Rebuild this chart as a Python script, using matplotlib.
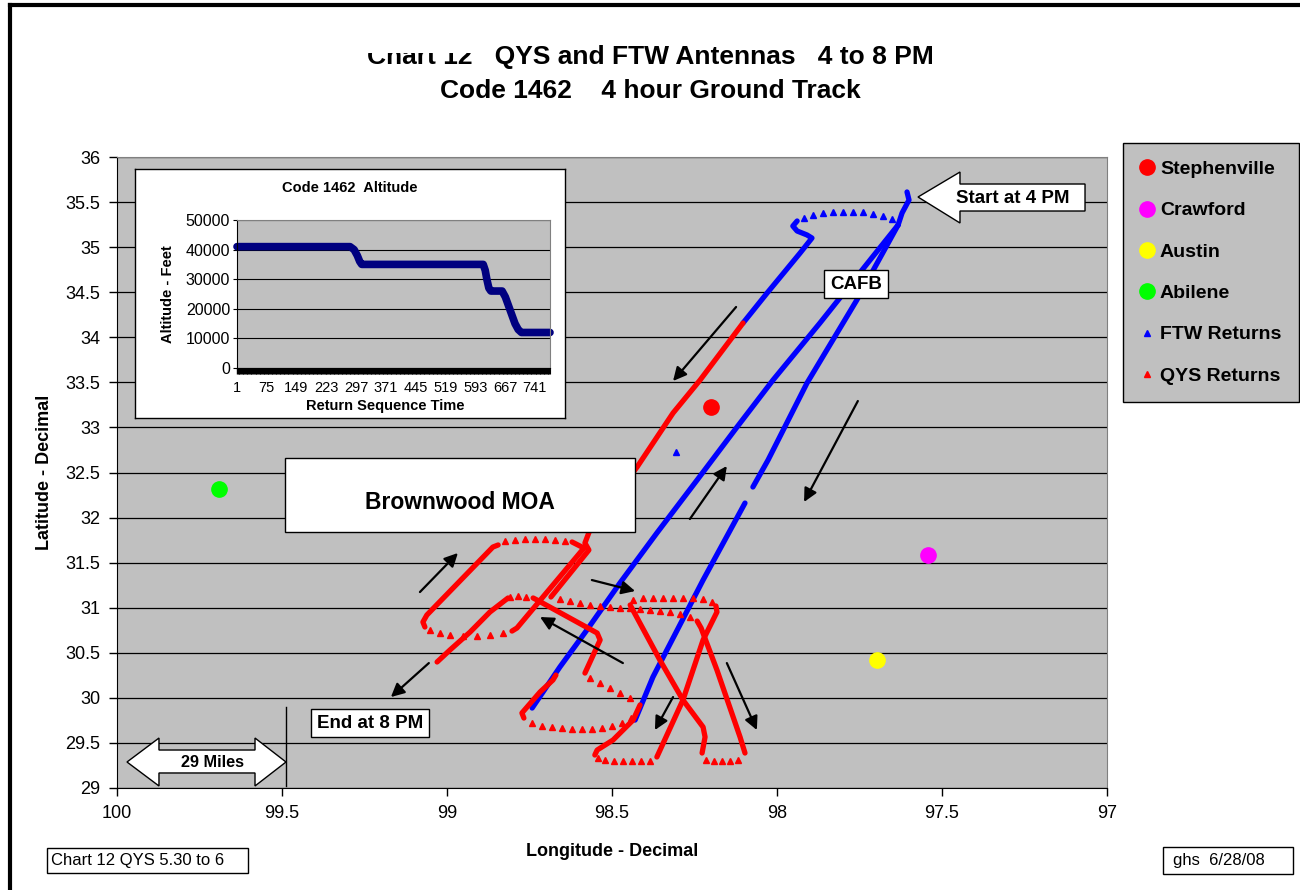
import matplotlib
matplotlib.use("Agg")
import numpy as np
import matplotlib.pyplot as plt
from matplotlib.patches import Rectangle, Polygon
from matplotlib.lines import Line2D
from matplotlib.ticker import FuncFormatter

plt.rcParams["font.family"] = ["Liberation Sans", "DejaVu Sans"]

# ---- towns (longitude west, latitude) ----
cities = ["Stephenville", "Crawford", "Austin", "Abilene"]
city_lon = [98.200, 97.542, 97.697, 99.691]
city_lat = [33.226, 31.585, 30.420, 32.317]
city_colors = ["#FF0000", "#FF00FF", "#FFFF00", "#00FF00"]

# ---- FTW returns (blue): dense runs and sparse turn points ----
ftw_start = [(97.606, 35.612), (97.600, 35.523), (97.621, 35.379), (97.633, 35.246)]
ftw_turn = [(97.652, 35.312), (97.679, 35.345), (97.709, 35.368), (97.739, 35.390),
            (97.770, 35.390), (97.800, 35.390), (97.830, 35.390), (97.861, 35.379),
            (97.891, 35.357), (97.918, 35.323)]
ftw_leg1 = [(97.939, 35.290), (97.952, 35.234), (97.939, 35.179), (97.909, 35.135),
            (97.894, 35.101), (97.930, 34.935), (98.030, 34.491), (98.103, 34.158)]
ftw_leg2 = [(97.633, 35.246), (97.718, 34.857), (97.870, 34.158), (98.012, 33.526),
            (98.121, 33.005), (98.242, 32.417), (98.364, 31.829), (98.476, 31.274),
            (98.576, 30.753), (98.658, 30.342), (98.742, 29.887)]
ftw_leg3a = [(97.633, 35.246), (97.758, 34.414), (97.909, 33.493), (98.027, 32.639),
             (98.073, 32.339)]
ftw_leg3b = [(98.097, 32.161), (98.224, 31.307), (98.376, 30.231), (98.430, 29.754)]
ftw_stray = [(98.306, 32.727)]

# ---- QYS returns (red) ----
qys_leg = [(98.103, 34.158), (98.233, 33.526), (98.315, 33.160), (98.424, 32.561),
           (98.567, 31.862), (98.582, 31.718), (98.570, 31.640), (98.685, 31.119)]
qys_turn1 = [(98.658, 31.097), (98.627, 31.074), (98.597, 31.052), (98.567, 31.030),
             (98.536, 31.019), (98.506, 31.008), (98.476, 30.997), (98.445, 30.997),
             (98.415, 30.986), (98.385, 30.974), (98.355, 30.963), (98.324, 30.952),
             (98.294, 30.930), (98.264, 30.897)]
qys_run2 = [(98.242, 30.852), (98.230, 30.775), (98.182, 30.309), (98.112, 29.566),
            (98.097, 29.388)]
qys_turn2 = [(98.118, 29.310), (98.142, 29.299), (98.167, 29.299), (98.191, 29.299),
             (98.215, 29.310)]
qys_run3 = [(98.227, 29.388), (98.218, 29.566), (98.224, 29.676), (98.285, 29.976),
            (98.355, 30.420), (98.445, 31.030)]
qys_turn3 = [(98.436, 31.085), (98.406, 31.108), (98.376, 31.108), (98.345, 31.108),
             (98.315, 31.108), (98.285, 31.108), (98.255, 31.108), (98.224, 31.097),
             (98.197, 31.063)]
qys_run4 = [(98.185, 31.019), (98.182, 30.952), (98.224, 30.642), (98.285, 29.976),
            (98.364, 29.344)]
qys_turn4 = [(98.385, 29.299), (98.412, 29.299), (98.439, 29.299), (98.467, 29.299),
             (98.494, 29.299), (98.521, 29.310), (98.542, 29.333)]
qys_run5 = [(98.552, 29.366), (98.545, 29.421), (98.497, 29.532), (98.436, 29.754),
            (98.415, 29.921)]
qys_turn5 = [(98.445, 29.998), (98.476, 30.054), (98.506, 30.109), (98.536, 30.165),
             (98.567, 30.220)]
qys_run6 = [(98.582, 30.275), (98.536, 30.642), (98.545, 30.719), (98.727, 31.085),
            (98.739, 31.108)]
qys_turn6 = [(98.761, 31.119), (98.785, 31.130), (98.809, 31.119)]
qys_end = [(98.815, 31.108), (98.870, 30.952), (98.930, 30.730), (98.991, 30.531),
           (99.030, 30.398)]
qys_run8 = [(98.621, 31.729), (98.585, 31.662), (98.788, 30.775), (98.803, 30.741)]
qys_turn8 = [(98.830, 30.719), (98.870, 30.697), (98.909, 30.686), (98.952, 30.686),
             (98.991, 30.697), (99.021, 30.719), (99.052, 30.753)]
qys_run9 = [(99.067, 30.786), (99.073, 30.841), (99.061, 30.919), (98.861, 31.673),
            (98.845, 31.696)]
qys_turn9 = [(98.824, 31.740), (98.794, 31.751), (98.764, 31.762), (98.733, 31.762),
             (98.703, 31.762), (98.673, 31.751), (98.642, 31.740)]
qys_run10 = [(98.670, 30.253), (98.679, 30.198), (98.718, 30.065), (98.773, 29.832),
             (98.767, 29.776)]
qys_turn10 = [(98.742, 29.721), (98.712, 29.688), (98.682, 29.676), (98.652, 29.665),
              (98.621, 29.654), (98.591, 29.654), (98.561, 29.654), (98.530, 29.665),
              (98.500, 29.688), (98.470, 29.721), (98.442, 29.776)]

ftw_runs = [ftw_start, ftw_leg1, ftw_leg2, ftw_leg3a, ftw_leg3b]
ftw_dots = [ftw_turn, ftw_stray]
qys_runs = [qys_leg, qys_run2, qys_run3, qys_run4, qys_run5, qys_run6, qys_end,
            qys_run8, qys_run9, qys_run10]
qys_dots = [qys_turn1, qys_turn2, qys_turn3, qys_turn4, qys_turn5, qys_turn6,
            qys_turn8, qys_turn9, qys_turn10]

# ---- inset: altitude vs return sequence ----
alt_seq = [1, 282, 292, 300, 306, 311, 613, 618, 622, 627, 632, 660, 668, 676,
           684, 692, 700, 708, 779]
alt_feet = [41000, 41000, 40000, 38000, 36000, 35000, 35000, 33000, 30000, 27000,
            26000, 26000, 24000, 21000, 18000, 15000, 13000, 12000, 12000]
alt_xticks = [1, 75, 149, 223, 297, 371, 445, 519, 593, 667, 741]

lon_ticks = [100, 99.5, 99, 98.5, 98, 97.5, 97]
lat_ticks = [29, 29.5, 30, 30.5, 31, 31.5, 32, 32.5, 33, 33.5, 34, 34.5, 35, 35.5, 36]

BLUE = "#0000FF"
RED = "#FF0000"
GRAY = "#C0C0C0"

fig = plt.figure(figsize=(13, 8.9), dpi=100)

# main plot area
ax = fig.add_axes([117 / 1300, 1 - 788 / 890, 990 / 1300, 631 / 890])
ax.set_facecolor(GRAY)
ax.set_xlim(100, 97)
ax.set_ylim(29, 36)
ax.set_xticks(lon_ticks)
ax.set_yticks(lat_ticks)
fmt = FuncFormatter(lambda v, p: f"{v:g}")
ax.xaxis.set_major_formatter(fmt)
ax.yaxis.set_major_formatter(fmt)
ax.yaxis.grid(True, color="black", lw=0.9)
ax.set_axisbelow(True)
ax.tick_params(direction="out", length=6, width=1, labelsize=13, pad=6)
for s in ["top", "right"]:
    ax.spines[s].set_color("#808080")
for s in ["left", "bottom"]:
    ax.spines[s].set_color("black")

for run in ftw_runs:
    lo, la = zip(*run)
    ax.plot(lo, la, color=BLUE, lw=3.8, solid_capstyle="round", zorder=2)
for dots in ftw_dots:
    lo, la = zip(*dots)
    ax.plot(lo, la, ls="none", marker="^", ms=4.5, color=BLUE, zorder=2)
for run in qys_runs:
    lo, la = zip(*run)
    ax.plot(lo, la, color=RED, lw=3.8, solid_capstyle="round", zorder=3)
for dots in qys_dots:
    lo, la = zip(*dots)
    ax.plot(lo, la, ls="none", marker="^", ms=4.5, color=RED, zorder=3)

for lo, la, c in zip(city_lon, city_lat, city_colors):
    ax.plot(lo, la, ls="none", marker="o", ms=11, mfc=c, mec=c, zorder=4)

# direction arrows
arrow_pairs = [((98.124, 34.336), (98.315, 33.515)),
               ((99.082, 31.174), (98.967, 31.607)),
               ((98.561, 31.307), (98.430, 31.185)),
               ((98.467, 30.386), (98.718, 30.897)),
               ((98.264, 31.984), (98.152, 32.572)),
               ((97.755, 33.293), (97.918, 32.173)),
               ((98.315, 30.009), (98.370, 29.643)),
               ((98.152, 30.386), (98.061, 29.643)),
               ((99.055, 30.386), (99.170, 30.009))]
for tail, head in arrow_pairs:
    ax.annotate("", xy=head, xytext=tail,
                arrowprops=dict(arrowstyle="-|>", color="black", lw=1.6,
                                mutation_scale=20, shrinkA=0, shrinkB=0),
                zorder=5)

# callouts
ax.add_patch(Rectangle((0.1697, 0.4057), 0.3535, 0.1173, transform=ax.transAxes,
                       facecolor="white", edgecolor="black", lw=1, zorder=6))
ax.text(0.3465, 0.4532, "Brownwood MOA", transform=ax.transAxes, ha="center",
        va="center", fontsize=16.5, fontweight="bold", zorder=7)

box = dict(boxstyle="square,pad=0.3", facecolor="white", edgecolor="black", lw=1)
ax.text(0.7465, 0.7987, "CAFB", transform=ax.transAxes, ha="center", va="center",
        fontsize=13.5, fontweight="bold", bbox=box, zorder=7)
ax.text(0.2556, 0.1030, "End at 8 PM", transform=ax.transAxes, ha="center",
        va="center", fontsize=13.5, fontweight="bold", bbox=box, zorder=7)

start_shape = [(0.8091, 0.9366), (0.8515, 0.9762), (0.8515, 0.9572), (0.9778, 0.9572),
               (0.9778, 0.9144), (0.8515, 0.9144), (0.8515, 0.8954)]
ax.add_patch(Polygon(start_shape, closed=True, transform=ax.transAxes,
                     facecolor="white", edgecolor="black", lw=1, zorder=6))
ax.text(0.9051, 0.9350, "Start at 4 PM", transform=ax.transAxes, ha="center",
        va="center", fontsize=13.5, fontweight="bold", zorder=7)

miles_shape = [(0.0101, 0.0412), (0.0424, 0.0792), (0.0424, 0.0602), (0.1394, 0.0602),
               (0.1394, 0.0792), (0.1707, 0.0412), (0.1394, 0.0032), (0.1394, 0.0238),
               (0.0424, 0.0238), (0.0424, 0.0032)]
ax.add_patch(Polygon(miles_shape, closed=True, transform=ax.transAxes,
                     facecolor="white", edgecolor="black", lw=1, zorder=6))
ax.text(0.0960, 0.0412, "29 Miles", transform=ax.transAxes, ha="center",
        va="center", fontsize=11.7, fontweight="bold", zorder=7)
ax.plot([0.1707, 0.1707], [0.003, 0.128], transform=ax.transAxes, color="black",
        lw=1, zorder=6)

# titles and axis labels
fig.text(0.5, 1 - 57 / 890, "Chart 12   QYS and FTW Antennas   4 to 8 PM",
         ha="center", va="center", fontsize=19, fontweight="bold")
fig.text(0.5, 1 - 91 / 890, "Code 1462    4 hour Ground Track",
         ha="center", va="center", fontsize=19, fontweight="bold")
fig.add_artist(Rectangle((355 / 1300, 1 - 53 / 890), 125 / 1300, 25 / 890,
                         transform=fig.transFigure, facecolor="white",
                         edgecolor="none", zorder=10))
fig.text(612 / 1300, 1 - 851 / 890, "Longitude - Decimal", ha="center", va="center",
         fontsize=13, fontweight="bold")
fig.text(45 / 1300, 1 - 472 / 890, "Latitude - Decimal", ha="center", va="center",
         rotation=90, fontsize=13, fontweight="bold")

# legend
handles = [Line2D([], [], ls="none", marker="o", ms=11, mfc=c, mec=c)
           for c in city_colors]
handles += [Line2D([], [], ls="none", marker="^", ms=4.5, color=BLUE),
            Line2D([], [], ls="none", marker="^", ms=4.5, color=RED)]
labels = cities + ["FTW Returns", "QYS Returns"]
leg = fig.legend(handles, labels, loc="upper left",
                 bbox_to_anchor=(1123 / 1300, 1 - 143 / 890), frameon=True,
                 fancybox=False, facecolor=GRAY, edgecolor="black", framealpha=1,
                 prop=dict(weight="bold", size=14), labelspacing=1.22,
                 handlelength=0.7, handletextpad=0.3, borderpad=0.9,
                 borderaxespad=0)
leg.get_frame().set_linewidth(1.0)

# inset chart
box_ax = fig.add_axes([135 / 1300, 1 - 418 / 890, 430 / 1300, 249 / 890], zorder=3)
box_ax.set_facecolor("white")
box_ax.set_xticks([])
box_ax.set_yticks([])
for s in box_ax.spines.values():
    s.set_color("black")
    s.set_linewidth(1)

iax = fig.add_axes([237 / 1300, 1 - 368 / 890, 313 / 1300, 148 / 890], zorder=4)
iax.set_facecolor(GRAY)
iax.plot(alt_seq, alt_feet, color="#000080", lw=5.5, solid_capstyle="round",
         solid_joinstyle="round", clip_on=False)
iax.set_xlim(1, 779)
iax.set_ylim(0, 50000)
iax.set_yticks([0, 10000, 20000, 30000, 40000, 50000])
iax.set_xticks(alt_xticks)
iax.set_xticks(np.arange(1, 780, 2), minor=True)
iax.yaxis.grid(True, color="black", lw=0.8)
iax.set_axisbelow(True)
iax.tick_params(axis="y", length=3, pad=2, labelsize=11.5)
iax.tick_params(axis="x", which="major", length=4, width=1, pad=5, labelsize=10.5)
iax.tick_params(axis="x", which="minor", length=4, width=0.8)
for s in ["top", "right"]:
    iax.spines[s].set_color("#808080")
fig.text(350 / 1300, 1 - 188 / 890, "Code 1462  Altitude", ha="center", va="center",
         fontsize=10.5, fontweight="bold", zorder=5)
fig.text(168 / 1300, 1 - 294 / 890, "Altitude - Feet", ha="center", va="center",
         rotation=90, fontsize=10.5, fontweight="bold", zorder=5)
fig.text(385 / 1300, 1 - 406 / 890, "Return Sequence Time", ha="center", va="center",
         fontsize=10.5, fontweight="bold", zorder=5)

# footer notes
fig.add_artist(Rectangle((47 / 1300, 1 - 873 / 890), 201 / 1300, 25 / 890,
                         transform=fig.transFigure, facecolor="white",
                         edgecolor="black", lw=1))
fig.text(51 / 1300, 1 - 860 / 890, "Chart 12 QYS 5.30 to 6", ha="left", va="center",
         fontsize=12)
fig.add_artist(Rectangle((1163 / 1300, 1 - 874 / 890), 130 / 1300, 27 / 890,
                         transform=fig.transFigure, facecolor="white",
                         edgecolor="black", lw=1))
fig.text(1173 / 1300, 1 - 860 / 890, "ghs  6/28/08", ha="left", va="center",
         fontsize=12)

# outer frame
fig.add_artist(Line2D([10 / 1300, 10 / 1300], [0, 1 - 5 / 890],
                      transform=fig.transFigure, color="black", lw=3))
fig.add_artist(Line2D([10 / 1300, 1], [1 - 5 / 890, 1 - 5 / 890],
                      transform=fig.transFigure, color="black", lw=3))

fig.savefig("out.png", dpi=100)
